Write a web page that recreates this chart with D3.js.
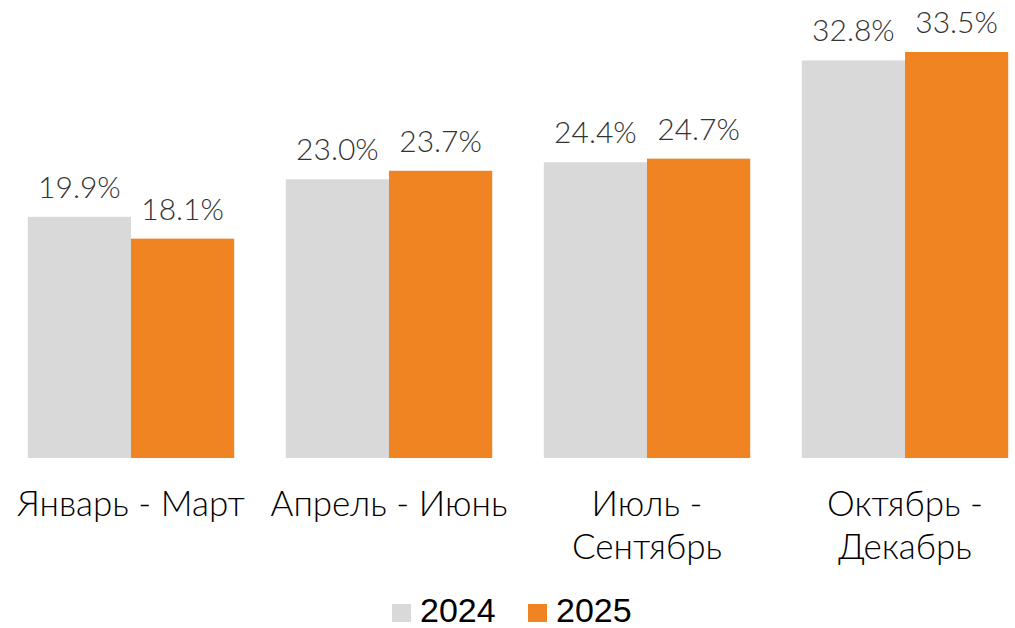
<!DOCTYPE html>
<html>
<head>
<meta charset="utf-8">
<script src="https://cdn.jsdelivr.net/npm/d3@7"></script>
<style>
  body { margin: 0; background: #fff; }
  svg { display: block; }
</style>
</head>
<body>
<svg id="chart" width="1015" height="628"></svg>
<script>
// data
var categories = [["Январь - Март"], ["Апрель - Июнь"], ["Июль -", "Сентябрь"], ["Октябрь -", "Декабрь"]];
var seriesNames = ["2024", "2025"];
var values2024 = [19.9, 23.0, 24.4, 32.8];
var values2025 = [18.1, 23.7, 24.7, 33.5];
var colours = ["#d9d9d9", "#f08423"];

var svg = d3.select("#chart");
var baseY = 458;

var x = d3.scaleBand().domain(d3.range(categories.length))
    .range([2, 1034]).paddingInner(0.2).paddingOuter(0.1);
var xs = d3.scaleBand().domain([0, 1]).range([0, x.bandwidth()]);
var y = d3.scaleLinear().domain([0, 33.5]).range([baseY, 52]);

var rows = [];
categories.forEach(function(c, i) {
  rows.push({i: i, s: 0, v: values2024[i]});
  rows.push({i: i, s: 1, v: values2025[i]});
});

var g = svg.append("g");
g.selectAll(".bar").data(rows).enter().append("rect")
  .attr("class", "bar")
  .attr("x", function(d) { return x(d.i) + xs(d.s); })
  .attr("width", xs.bandwidth())
  .attr("y", function(d) { return y(d.v); })
  .attr("height", function(d) { return baseY - y(d.v); })
  .style("fill", function(d) { return colours[d.s]; });

g.selectAll(".label").data(rows).enter().append("text")
  .attr("class", "label")
  .attr("x", function(d) { return x(d.i) + xs(d.s) + xs.bandwidth() / 2; })
  .attr("y", function(d) { return y(d.v) - 19; })
  .attr("text-anchor", "middle")
  .style("font-family", "Lato, 'Noto Sans', sans-serif")
  .style("font-weight", 300)
  .style("font-size", "30px")
  .style("fill", "#333")
  .text(function(d) { return d.v.toFixed(1) + "%"; });

// category labels
var cat = g.selectAll(".cat").data(categories).enter().append("text")
  .attr("class", "cat")
  .attr("text-anchor", "middle")
  .style("font-family", "Lato, 'Noto Sans', sans-serif")
  .style("font-weight", 300)
  .style("font-size", "35px")
  .style("fill", "#000");
cat.selectAll("tspan").data(function(d, i) { return d.map(function(t) { return {t: t, i: i}; }); })
  .enter().append("tspan")
  .attr("x", function(d) { return x(d.i) + x.bandwidth() / 2; })
  .attr("y", function(d, j) { return 516 + j * 43; })
  .text(function(d) { return d.t; });

// legend
var legend = svg.append("g");
var legX = [392, 528];
seriesNames.forEach(function(n, k) {
  legend.append("rect")
    .attr("x", legX[k]).attr("y", 604).attr("width", 19).attr("height", 18)
    .style("fill", colours[k]);
  legend.append("text")
    .attr("x", legX[k] + 28).attr("y", 622)
    .style("font-family", "'Liberation Sans', Arial, sans-serif")
    .style("font-size", "34px")
    .style("fill", "#000")
    .text(n);
});
</script>
</body>
</html>
